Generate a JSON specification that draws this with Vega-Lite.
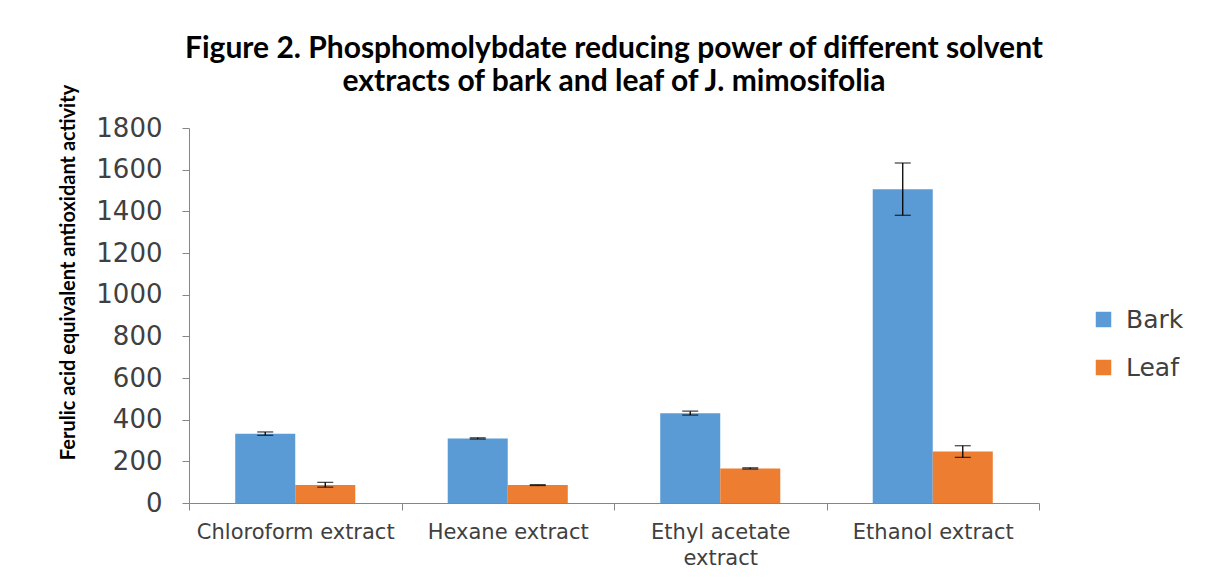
{
  "$schema": "https://vega.github.io/schema/vega-lite/v6.json",
  "autosize": {"type": "none"},
  "width": 850,
  "height": 375,
  "padding": {"left": 189, "top": 128, "right": 172, "bottom": 75},
  "background": "white",
  "title": {
    "text": ["Figure 2. Phosphomolybdate  reducing power of different solvent", "extracts of bark and leaf of J. mimosifolia"],
    "font": "Lato",
    "fontSize": 30,
    "fontWeight": "bold",
    "color": "#000000",
    "anchor": "middle",
    "lineHeight": 33,
    "offset": -13
  },
  "data": {
    "values": [
      {"extract": "Chloroform extract", "part": "Bark", "value": 333, "low": 325, "high": 341},
      {"extract": "Chloroform extract", "part": "Leaf", "value": 87, "low": 76, "high": 99},
      {"extract": "Hexane extract", "part": "Bark", "value": 310, "low": 307, "high": 313},
      {"extract": "Hexane extract", "part": "Leaf", "value": 86, "low": 84, "high": 88},
      {"extract": "Ethyl acetate extract", "part": "Bark", "value": 431, "low": 422, "high": 441},
      {"extract": "Ethyl acetate extract", "part": "Leaf", "value": 166, "low": 163, "high": 169},
      {"extract": "Ethanol extract", "part": "Bark", "value": 1506, "low": 1381, "high": 1632},
      {"extract": "Ethanol extract", "part": "Leaf", "value": 247, "low": 219, "high": 275}
    ]
  },
  "encoding": {
    "x": {
      "field": "extract",
      "type": "nominal",
      "sort": null,
      "scale": {"paddingInner": 0, "paddingOuter": 0},
      "axis": {
        "title": null,
        "labelAngle": 0,
        "labelLimit": 0,
        "tickBand": "extent",
        "labelFont": "DejaVu Sans",
        "labelFontSize": 21,
        "labelColor": "#404040",
        "labelPadding": 11,
        "labelLineHeight": 26,
        "labelExpr": "datum.value == 'Ethyl acetate extract' ? ['Ethyl acetate', 'extract'] : datum.value",
        "domainColor": "#868686",
        "tickColor": "#868686",
        "tickSize": 7
      }
    },
    "xOffset": {
      "field": "part",
      "type": "nominal",
      "scale": {"paddingOuter": 0.77, "paddingInner": 0}
    }
  },
  "layer": [
    {
      "mark": {"type": "bar"},
      "encoding": {
        "y": {
          "field": "value",
          "type": "quantitative",
          "scale": {"domain": [0, 1800], "nice": false},
          "axis": {
            "values": [0, 200, 400, 600, 800, 1000, 1200, 1400, 1600, 1800],
            "format": "d",
            "grid": false,
            "title": "Ferulic acid equivalent antioxidant activity",
            "titleFont": "Lato",
            "titleFontSize": 20,
            "titleFontWeight": "bold",
            "titleColor": "#000000",
            "titleAngle": -90,
            "titleX": -121,
            "titleY": 144,
            "titleAlign": "center",
            "titleBaseline": "middle",
            "labelFont": "DejaVu Sans",
            "labelFontSize": 26,
            "labelColor": "#404040",
            "labelPadding": 20,
            "domainColor": "#868686",
            "tickColor": "#868686",
            "tickSize": 7
          }
        },
        "color": {
          "field": "part",
          "type": "nominal",
          "scale": {"domain": ["Bark", "Leaf"], "range": ["#5B9BD5", "#ED7D31"]},
          "legend": {
            "title": null,
            "orient": "none",
            "legendX": 902,
            "legendY": 179,
            "symbolType": "square",
            "symbolSize": 240,
            "symbolStrokeWidth": 0,
            "labelFont": "DejaVu Sans",
            "labelFontSize": 25,
            "labelColor": "#404040",
            "labelOffset": 10,
            "rowPadding": 22,
            "padding": 0
          }
        }
      }
    },
    {
      "mark": {"type": "rule", "color": "#000000", "strokeWidth": 1.3},
      "encoding": {
        "y": {"field": "low", "type": "quantitative"},
        "y2": {"field": "high"}
      }
    },
    {
      "mark": {"type": "tick", "color": "#000000", "thickness": 1.3, "size": 16},
      "encoding": {
        "y": {"field": "low", "type": "quantitative"}
      }
    },
    {
      "mark": {"type": "tick", "color": "#000000", "thickness": 1.3, "size": 16},
      "encoding": {
        "y": {"field": "high", "type": "quantitative"}
      }
    }
  ],
  "config": {
    "view": {"stroke": null}
  }
}
